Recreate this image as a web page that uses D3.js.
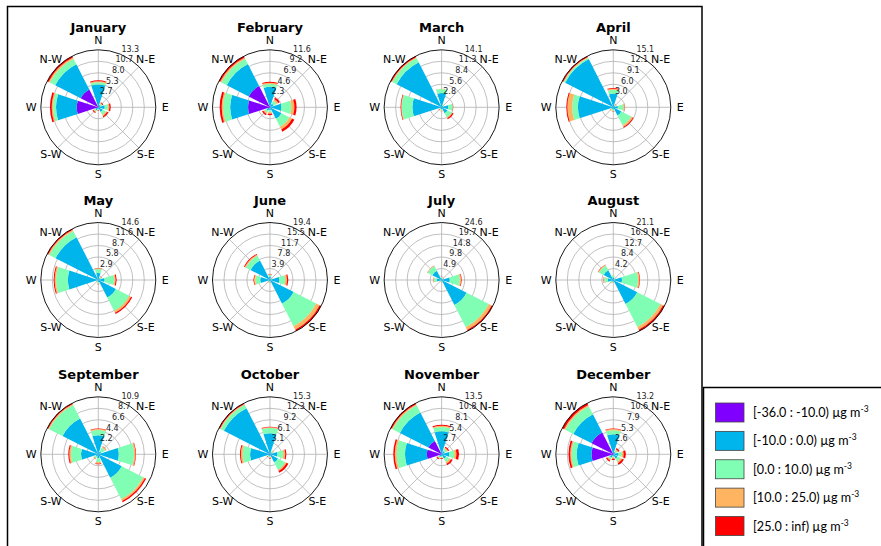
<!DOCTYPE html>
<html>
<head>
<meta charset="utf-8">
<script src="https://cdn.jsdelivr.net/npm/d3@7"></script>
<style>
  body { margin: 0; background: #fff; }
  svg { display: block; }
</style>
</head>
<body>
<svg id="chart" width="881" height="546"></svg>
<script>
// ---- data -------------------------------------------------------------
const months = ["January", "February", "March", "April", "May", "June",
                "July", "August", "September", "October", "November", "December"];
const directions = ["N", "N-E", "E", "S-E", "S", "S-W", "W", "N-W"];
const binLabels = ["[-36.0 : -10.0)", "[-10.0 : 0.0)", "[0.0 : 10.0)", "[10.0 : 25.0)", "[25.0 : inf)"];
const unitLabel = "\u00b5g m";
const unitExp = "-3";

// frequency (%) per concentration bin; columns follow `directions`
const jan = [
  [0.3, 0,   0,   0,   0,   0.2, 5.0, 4.6 ],
  [5.0, 0.6, 1.5, 1.2, 0.4, 0.6, 4.8, 6.63],
  [0.5, 0.3, 0.8, 0.8, 0.2, 0.3, 0.7, 1.4 ],
  [0.25,0.2, 0.3, 0.3, 0.1, 0.2, 0.3, 0.35],
  [0.2, 0.2, 0.3, 0.3, 0.1, 0.2, 0.4, 0.35]
];
const feb = [
  [0.3, 0,   0,   0,   0,   0.2, 4.4, 4.8  ],
  [3.8, 0.8, 2.3, 2.6, 0.6, 0.6, 3.6, 4.955],
  [0.6, 0.7, 2.0, 1.8, 0.4, 0.4, 1.4, 1.2  ],
  [0.25,0.4, 0.6, 0.6, 0.3, 0.3, 0.3, 0.3  ],
  [0.2, 0.3, 0.45,0.5, 0.3, 0.3, 0.4, 0.3  ]
];
const mar = [
  [0.1, 0,    0,   0,   0,    0,    0.2,  0    ],
  [3.4, 0.4,  1.6, 1.6, 0.5,  0.4,  6.95, 12.37],
  [1.0, 0.3,  1.1, 1.2, 0.3,  0.3,  2.6,  1.2  ],
  [0.05,0.05, 0.1, 0.2, 0.2,  0.1,  0.15, 0.2  ],
  [0,   0,    0.05,0.3, 0.05, 0.05, 0.15, 0.3  ]
];
const apr = [
  [0.1, 0,    0,    0,   0,    0,    0.1,  0    ],
  [3.5, 0.5,  1.2,  2.4, 0.6,  0.5,  9.2,  14.22],
  [1.0, 0.3,  1.5,  2.9, 0.3,  0.3,  1.5,  0.4  ],
  [0.3, 0.1,  0.3,  0.5, 0.2,  0.2,  1.3,  0.2  ],
  [0.2, 0.05, 0.05, 0.2, 0.05, 0.05, 0.25, 0.3  ]
];
const may = [
  [0,    0,    0,    0,    0,    0,    0.1,  0     ],
  [1.8,  0.5,  1.6,  5.0,  0.6,  0.3,  7.6,  12.155],
  [1.0,  0.3,  2.5,  3.8,  0.3,  0.2,  3.0,  1.8   ],
  [0.2,  0.2,  0.3,  0.5,  0.1,  0.05, 0.35, 0.3   ],
  [0.05, 0.05, 0.25, 0.35, 0.05, 0.05, 0.25, 0.3   ]
];
const jun = [
  [0,   0,    0,   0,     0,    0,    0.3, 0.2],
  [1.2, 0.5,  3.2, 9.0,   0.6,  0.5,  3.0, 7.2],
  [0.5, 0.3,  2.0, 8.525, 0.3,  0.3,  1.6, 1.8],
  [0.2, 0.1,  0.6, 1.3,   0.1,  0.1,  0.5, 0.4],
  [0.1, 0.05, 0.4, 0.6,   0.05, 0.05, 0.2, 0.3]
];
const jul = [
  [0,    0,    0,    0,    0,    0,    0,   0  ],
  [0.8,  0.6,  3.5,  12.0, 0.5,  0.5,  2.0, 4.5],
  [0.5,  0.4,  4.3,  10.7, 0.3,  0.4,  1.2, 2.2],
  [0.1,  0.1,  0.5,  1.3,  0.1,  0.1,  0.3, 0.2],
  [0.05, 0.05, 0.25, 0.6,  0.05, 0.05, 0.1, 0.1]
];
const aug = [
  [0,    0,    0,   0,   0,    0,    0,   0  ],
  [1.0,  0.5,  3.2, 9.9, 0.6,  0.8,  2.0, 4.0],
  [0.6,  0.4,  5.9, 9.5, 0.3,  0.5,  1.3, 2.0],
  [0.1,  0.1,  0.5, 1.1, 0.1,  0.1,  0.3, 0.3],
  [0.05, 0.05, 0.2, 0.6, 0.05, 0.05, 0.1, 0.1]
];
const sep = [
  [0,   0,    0,    0,    0,   0,    0,   0    ],
  [3.6, 0.6,  3.9,  5.0,  0.7, 0.5,  3.3, 7.625],
  [1.0, 0.9,  2.9,  4.6,  0.8, 0.4,  1.9, 2.9  ],
  [0.2, 0.2,  0.25, 0.35, 0.3, 0.1,  0.3, 0.2  ],
  [0.1, 0.05, 0.1,  0.25, 0.1, 0.05, 0.2, 0.2  ]
];
const oct = [
  [0.1,  0,    0,   0,   0,   0,    0.4,  0.3 ],
  [5.5,  0.6,  2.0, 2.4, 0.5, 0.5,  4.9,  13.5],
  [1.4,  0.4,  1.6, 2.2, 0.3, 0.3,  2.0,  1.0 ],
  [0.2,  0.1,  0.5, 0.4, 0.2, 0.1,  0.45, 0.23],
  [0.15, 0.05, 0.3, 0.5, 0.1, 0.05, 0.25, 0.3 ]
];
const nov = [
  [0.2, 0,   0,   0,   0,   0.2, 3.5,  3.5],
  [5.2, 0.8, 1.8, 1.2, 0.4, 0.5, 5.1,  7.5],
  [1.0, 0.6, 1.2, 0.9, 0.3, 0.3, 2.0,  1.9],
  [0.3, 0.3, 0.5, 0.4, 0.2, 0.2, 0.4,  0.3],
  [0.2, 0.3, 0.6, 0.4, 0.2, 0.2, 0.35, 0.3]
];
const dec = [
  [0.3,  0,   0,   0,   0,   0.3, 5.0, 5.6 ],
  [4.3,  0.6, 1.2, 1.1, 0.4, 0.6, 3.4, 4.72],
  [0.9,  0.4, 0.8, 0.8, 0.3, 0.4, 1.2, 2.1 ],
  [0.3,  0.3, 0.4, 0.4, 0.3, 0.3, 0.3, 0.3 ],
  [0.15, 0.3, 0.5, 0.4, 0.3, 0.3, 0.4, 0.5 ]
];
const monthly = [jan, feb, mar, apr, may, jun, jul, aug, sep, oct, nov, dec];

// ---- styling ----------------------------------------------------------
// matplotlib "rainbow" sampled at 0, .25, .5, .75, 1
const binColors = ["#8000ff", "#00b4ec", "#80ffb4", "#ffb462", "#ff0000"];
const font = "'DejaVu Sans', sans-serif";

const svg = d3.select("#chart");
const W = 881, H = 546;
svg.append("rect").attr("width", W).attr("height", H).attr("fill", "#fff");

// outer frame around the panels
svg.append("rect")
  .attr("x", 7.5).attr("y", 6.5).attr("width", 694.5).attr("height", 560)
  .attr("fill", "none").attr("stroke", "#000").attr("stroke-width", 1.5);

const R = 57.5;
const colX = d3.scaleLinear().domain([0, 3]).range([98.3, 613.3]);
const rowY = [107.3, 280, 454.3];
const sectorStep = 2 * Math.PI / directions.length;
const halfWidth = 0.8 * sectorStep / 2;
const angle = d3.scaleOrdinal().domain(directions).range(directions.map((d, i) => i * sectorStep));
const fmt = d3.format(".1f");

monthly.forEach((table, m) => {
  const cx = colX(m % 4), cy = rowY[Math.floor(m / 4)];
  const g = svg.append("g").attr("transform", `translate(${cx},${cy})`);

  const rows = directions.map((d, j) => {
    const o = { dir: d };
    table.forEach((bin, b) => { o[b] = bin[j]; });
    return o;
  });
  const stack = d3.stack().keys(d3.range(binColors.length))(rows);
  const rmax = d3.max(rows, r => d3.sum(d3.range(binColors.length), b => r[b]));
  const r = d3.scaleLinear().domain([0, rmax]).range([0, R]);
  const ringValues = d3.range(1, 6).map(k => rmax * k / 5);

  // grid
  g.selectAll("circle.ring").data(ringValues.slice(0, 4)).join("circle")
    .attr("r", d => r(d)).attr("fill", "none")
    .attr("stroke", "#b0b0b0").attr("stroke-width", 0.8);
  g.selectAll("line.spoke").data(directions).join("line")
    .attr("x1", 0).attr("y1", 0)
    .attr("x2", d => R * Math.sin(angle(d)))
    .attr("y2", d => -R * Math.cos(angle(d)))
    .attr("stroke", "#b0b0b0").attr("stroke-width", 0.8);

  // stacked sector bars
  const arc = d3.arc();
  stack.forEach((layer, b) => {
    g.append("g").selectAll("path")
      .data(layer.filter(s => s[1] - s[0] > 0))
      .join("path")
      .attr("d", s => arc({
        innerRadius: r(s[0]), outerRadius: r(s[1]),
        startAngle: angle(s.data.dir) - halfWidth,
        endAngle: angle(s.data.dir) + halfWidth
      }))
      .attr("fill", binColors[b]);
  });

  // outer boundary
  g.append("circle").attr("r", R).attr("fill", "none")
    .attr("stroke", "#000").attr("stroke-width", 0.9);

  // radial tick labels
  g.selectAll("text.rtick").data(ringValues).join("text")
    .attr("x", d => 2 + r(d) * 0.522)
    .attr("y", d => -5 - r(d) * 0.922)
    .attr("text-anchor", "middle").attr("dominant-baseline", "central")
    .attr("font-family", font).attr("font-size", 8).attr("fill", "#222")
    .text(d => fmt(d));

  // compass labels
  g.selectAll("text.dir").data(directions).join("text")
    .attr("x", d => 67 * Math.sin(angle(d)))
    .attr("y", d => -67 * Math.cos(angle(d)))
    .attr("text-anchor", "middle").attr("dominant-baseline", "central")
    .attr("font-family", font).attr("font-size", 11).attr("fill", "#000")
    .text(d => d);

  // title
  g.append("text").attr("x", 0).attr("y", -75.5)
    .attr("text-anchor", "middle")
    .attr("font-family", font).attr("font-weight", "bold").attr("font-size", 13)
    .text(months[m]);
});

// ---- legend ----------------------------------------------------------
const lg = svg.append("g");
lg.append("rect")
  .attr("x", 703.5).attr("y", 387.5).attr("width", 180).attr("height", 170)
  .attr("fill", "#fff").attr("stroke", "#000").attr("stroke-width", 1.5);
const ly = d3.scaleLinear().domain([0, 4]).range([412.5, 526]);
binLabels.forEach((lab, i) => {
  lg.append("rect")
    .attr("x", 715.5).attr("y", ly(i) - 9.5).attr("width", 28.5).attr("height", 19)
    .attr("fill", binColors[i]).attr("stroke", "#444").attr("stroke-width", 0.8);
  const t = lg.append("text")
    .attr("x", 753).attr("y", ly(i) + 4.5)
    .attr("font-family", "Lato, 'Open Sans', sans-serif").attr("font-size", 12.6).attr("fill", "#000");
  t.append("tspan").text(lab + " " + unitLabel);
  t.append("tspan").attr("font-size", 8.5).attr("dy", -5).text(unitExp);
});
</script>
</body>
</html>
